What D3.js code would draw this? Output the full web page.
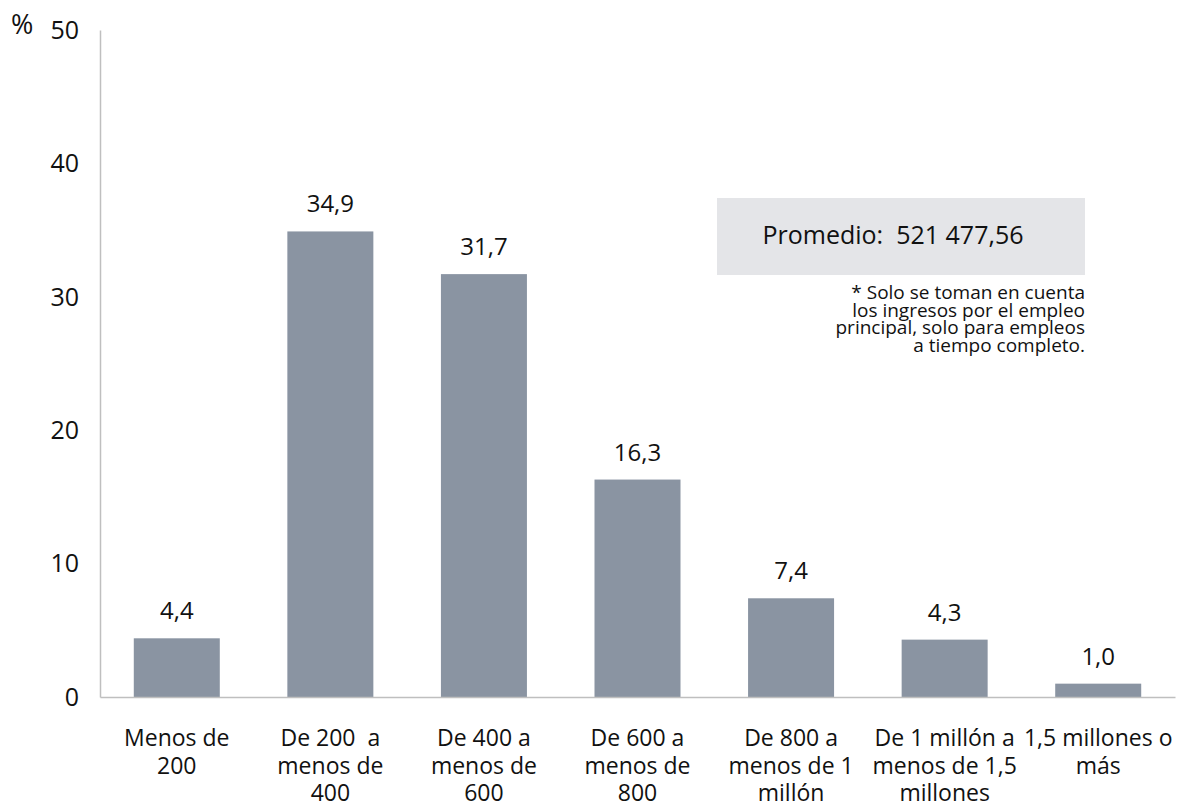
<!DOCTYPE html>
<html><head><meta charset="utf-8">
<script src="https://cdn.jsdelivr.net/npm/d3@7"></script>
<style>body{margin:0;background:#fff;} text{font-family:"Open Sans","Noto Sans",sans-serif;fill:#111;}</style>
</head><body>
<svg id="c" width="1201" height="808"></svg>
<script>
const categories = [
  ["Menos de","200"],
  ["De 200  a","menos de","400"],
  ["De 400 a","menos de","600"],
  ["De 600 a","menos de","800"],
  ["De 800 a","menos de 1","millón"],
  ["De 1 millón a","menos de 1,5","millones"],
  ["1,5 millones o","más"]
];
const values = [4.4, 34.9, 31.7, 16.3, 7.4, 4.3, 1.0];
const yTicks = [0, 10, 20, 30, 40, 50];
const boxText = "Promedio:  521 477,56";
const noteLines = ["* Solo se toman en cuenta","los ingresos por el empleo","principal, solo para empleos","a tiempo completo."];

const svg = d3.select("#c");
const x = d3.scaleBand().domain(d3.range(categories.length)).range([100,1175]).paddingInner(0.44).paddingOuter(0.22);
const y = d3.scaleLinear().domain([0,50]).range([697,30]);
const fmt = v => d3.format(".1f")(v).replace(".", ",");

// bars
svg.selectAll("rect.bar").data(values).join("rect").attr("class","bar")
  .attr("x",(d,i)=>x(i)).attr("width",x.bandwidth())
  .attr("y",d=>y(d)).attr("height",d=>y(0)-y(d)).attr("fill","#8a94a2");

// value labels
svg.selectAll("text.val").data(values).join("text").attr("class","val")
  .attr("x",(d,i)=>x(i)+x.bandwidth()/2).attr("y",d=>y(d)-19)
  .attr("text-anchor","middle").attr("font-size",24).text(fmt);

// y axis
const ya = svg.append("g").attr("transform","translate(100,0)").call(d3.axisLeft(y).tickValues(yTicks).tickSize(0).tickPadding(21));
ya.select(".domain").attr("stroke","#bfbfbf").attr("stroke-width",1.5);
ya.selectAll("text").attr("font-size",25).style("font-family","'Open Sans','Noto Sans',sans-serif").attr("fill","#111").attr("dy","0.33em");
svg.append("text").attr("x",11).attr("y",34).attr("font-size",27).text("%");

// x axis
const xa = svg.append("g").attr("transform",`translate(0,${y(0)})`).call(d3.axisBottom(x).tickSize(0).tickFormat(""));
xa.select(".domain").attr("stroke","#bfbfbf").attr("stroke-width",1.5);
svg.selectAll("text.cat").data(categories).join("text").attr("class","cat")
  .attr("x",(d,i)=>x(i)+x.bandwidth()/2).attr("y",746)
  .attr("text-anchor","middle").attr("font-size",23)
  .each(function(d){
    const t=d3.select(this);
    d.forEach((l,j)=>t.append("tspan").attr("x",t.attr("x")).attr("dy",j?27.5:0).text(l).style("white-space","pre"));
  });

// info box
svg.append("rect").attr("x",717).attr("y",198).attr("width",368).attr("height",77).attr("fill","#e4e5e8");
svg.append("text").attr("x",893).attr("y",244).attr("text-anchor","middle").attr("font-size",25).style("white-space","pre").text(boxText);
svg.selectAll("text.note").data(noteLines).join("text").attr("class","note")
  .attr("x",1085).attr("y",(d,i)=>299+i*17.7).attr("text-anchor","end").attr("font-size",19).text(d=>d);
</script>
</body></html>
